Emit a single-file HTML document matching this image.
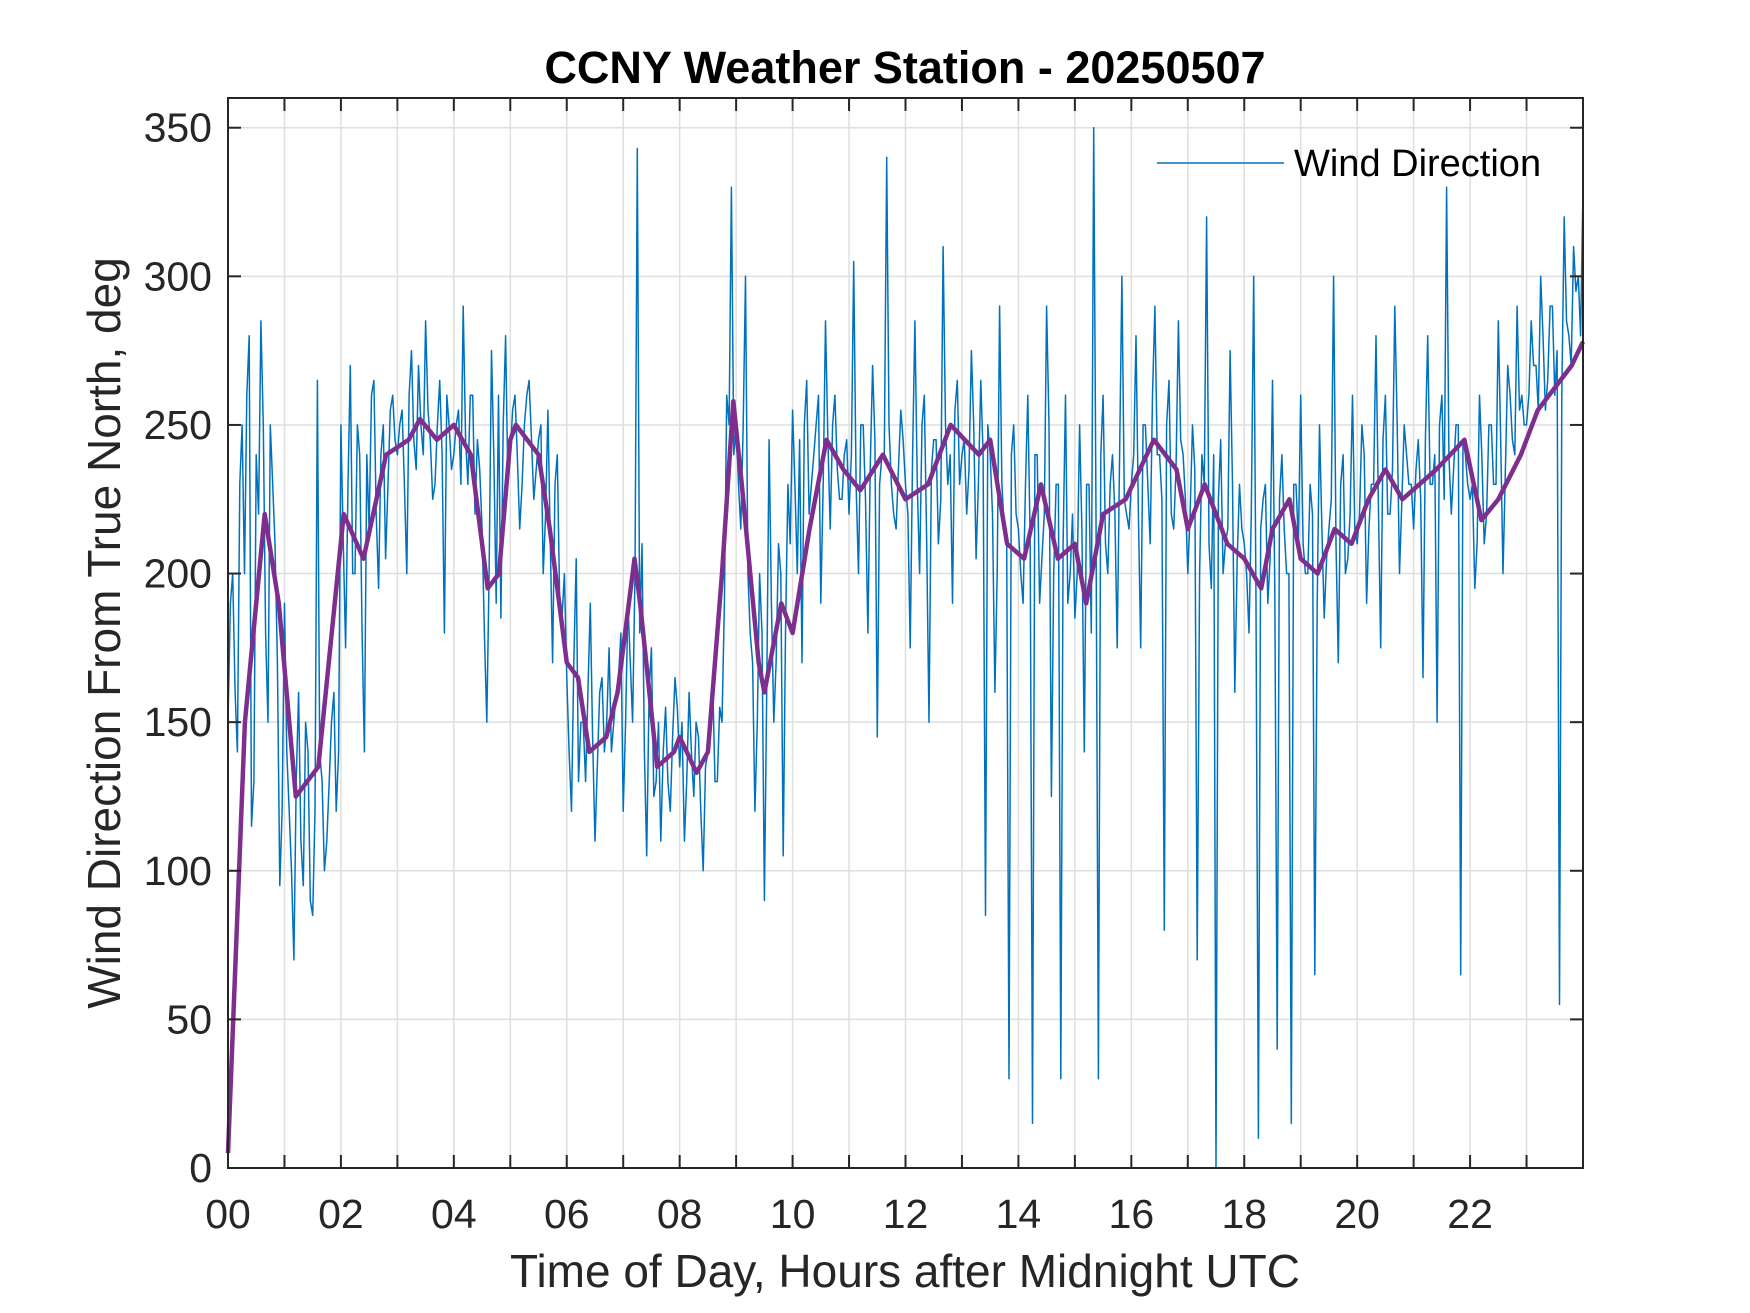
<!DOCTYPE html>
<html><head><meta charset="utf-8"><style>
body{margin:0;background:#fff;}
svg{display:block;font-family:"Liberation Sans",Arial,sans-serif;}
</style></head><body>
<svg id="chart" width="1750" height="1313" viewBox="0 0 1750 1313" xmlns="http://www.w3.org/2000/svg">
<rect x="0" y="0" width="1750" height="1313" fill="#fff"/>
<g id="grid"></g>
<g id="series"></g>
<rect x="228" y="98" width="1355" height="1070" fill="none" stroke="#262626" stroke-width="2"/>
<g id="ticks"></g>
<text x="905" y="83" text-anchor="middle" font-size="45" font-weight="bold" fill="#000">CCNY Weather Station - 20250507</text>
<text x="905" y="1287" text-anchor="middle" font-size="46" fill="#262626">Time of Day, Hours after Midnight UTC</text>
<text transform="translate(120,633) rotate(-90)" text-anchor="middle" font-size="46" fill="#262626">Wind Direction From True North, deg</text>
<g>
<line x1="1157" y1="163" x2="1284" y2="163" stroke="#0072BD" stroke-width="1.5"/>
<text x="1294" y="176" font-size="38" fill="#000">Wind Direction</text>
</g>
</svg>
<script>
const xTicks=[0,1,2,3,4,5,6,7,8,9,10,11,12,13,14,15,16,17,18,19,20,21,22,23];
const xTickLabels=["00","","02","","04","","06","","08","","10","","12","","14","","16","","18","","20","","22",""];
const yTicks=[0,50,100,150,200,250,300,350];
const windDir=[
150,200,140,250,260,115,240,285,180,250,210,95,
190,120,70,160,95,140,85,265,130,110,150,120,
250,175,270,200,240,140,215,265,195,250,230,260,
240,255,200,275,235,250,285,245,230,265,180,250,
240,255,290,230,260,245,215,150,275,190,185,280,
240,260,215,250,265,225,245,200,255,170,240,185,
165,120,205,150,130,190,110,160,140,175,150,165,
120,190,150,343,210,105,175,130,110,155,120,165,
135,110,160,125,145,100,140,165,130,150,260,330,
250,215,300,180,120,200,90,245,150,210,105,230,
255,200,170,265,230,250,190,285,215,260,225,240,
220,305,200,250,180,270,145,240,340,230,215,255,
230,175,285,200,260,150,245,210,310,230,190,265,
240,220,275,205,265,85,240,160,290,215,30,250,
215,190,260,15,240,205,290,125,230,30,260,200,
185,250,140,230,350,30,260,200,240,175,300,220,
230,280,175,250,210,290,240,80,265,215,285,240,
200,250,70,240,320,195,0,245,210,275,160,230,
210,180,300,10,225,190,265,40,240,200,15,230,
260,200,230,65,250,185,215,300,170,240,205,260,
210,250,190,230,280,175,260,220,290,200,250,230,
215,245,165,280,230,150,260,330,220,250,65,240,
225,195,260,210,250,230,285,200,270,245,290,260,
250,285,270,300,255,290,260,55,320,280,310,300,330];
const windDirMid=[
190,160,230,200,280,130,220,250,150,230,170,120,
140,100,130,110,150,90,120,140,100,130,160,140,
210,230,200,250,180,240,260,220,240,205,255,245,
250,230,260,245,270,240,255,225,250,240,260,235,
250,230,245,260,220,235,180,200,240,260,250,230,
255,240,230,260,245,235,250,220,210,230,190,200,
140,170,130,150,160,145,135,165,150,140,160,180,
150,170,200,180,140,160,125,150,140,130,145,155,
150,130,140,150,120,135,145,130,155,190,250,240,
230,250,200,170,150,180,160,190,170,200,180,210,
230,245,250,220,240,260,230,245,250,235,225,245,
240,230,250,225,235,245,230,240,250,220,235,245,
220,240,230,250,210,235,245,225,250,240,255,230,
245,235,250,230,240,250,220,200,230,210,240,220,
200,230,210,240,190,220,250,200,230,210,190,220,
200,215,230,180,220,240,210,230,220,240,225,215,
240,220,250,230,260,240,225,250,220,235,245,225,
220,235,200,230,210,240,225,200,215,230,205,215,
200,220,190,215,230,205,195,225,215,200,230,210,
210,200,220,190,215,205,225,210,230,200,220,215,
220,240,215,230,225,245,220,235,250,225,240,230,
235,225,245,230,240,250,225,240,235,250,245,230,
230,210,240,220,250,230,245,235,260,240,255,250,
260,270,255,280,265,290,275,260,285,270,295,280];
const avgHours=[0,0.3,0.65,0.9,1.2,1.6,2.05,2.4,2.8,3.2,3.4,3.7,4.0,4.3,4.6,4.8,5.0,5.1,5.5,5.7,6.0,6.2,6.4,6.7,6.9,7.2,7.3,7.6,7.9,8.0,8.3,8.5,8.75,8.95,9.1,9.4,9.5,9.8,10.0,10.3,10.6,10.9,11.2,11.6,12.0,12.4,12.8,13.3,13.5,13.8,14.1,14.4,14.7,15.0,15.2,15.5,15.9,16.4,16.8,17.0,17.3,17.7,18.0,18.3,18.5,18.8,19.0,19.3,19.6,19.9,20.2,20.5,20.8,21.1,21.4,21.9,22.2,22.5,22.9,23.2,23.6,23.8,24.0];
const avgDir=[5,150,220,190,125,135,220,205,240,245,252,245,250,240,195,200,245,250,240,215,170,165,140,145,160,205,190,135,140,145,133,140,200,258,230,170,160,190,180,215,245,235,228,240,225,230,250,240,245,210,205,230,205,210,190,220,225,245,235,215,230,210,205,195,215,225,205,200,215,210,225,235,225,230,235,245,218,225,240,255,265,270,278];

const L=228,R=1583,T=98,B=1168;
const xS=h=>L+(R-L)*h/24;
const yS=v=>B-(B-T)*v/360;
const NS="http://www.w3.org/2000/svg";
const grid=document.getElementById('grid'),ticks=document.getElementById('ticks'),series=document.getElementById('series');
function mk(tag,attrs,parent){const e=document.createElementNS(NS,tag);for(const k in attrs)e.setAttribute(k,attrs[k]);parent.appendChild(e);return e;}
xTicks.forEach((h,i)=>{
  const x=xS(h);
  const g=mk('line',{x1:x,y1:T,x2:x,y2:B,stroke:'#dfdfdf','stroke-width':1.5},grid);
  
  
  const t1=mk('line',{x1:x,y1:B,x2:x,y2:B-13,stroke:'#262626','stroke-width':2},ticks);
  
  
  const t2=mk('line',{x1:x,y1:T,x2:x,y2:T+13,stroke:'#262626','stroke-width':2},ticks);
  
  
  if(xTickLabels[i]){
    const t=mk('text',{x:x,y:1228,'text-anchor':'middle','font-size':41,fill:'#262626'},ticks);
    t.textContent=xTickLabels[i];
    
    
  }
});
yTicks.forEach(v=>{
  const y=yS(v);
  const g=mk('line',{x1:L,y1:y,x2:R,y2:y,stroke:'#dfdfdf','stroke-width':1.5},grid);
  
  
  const t1=mk('line',{x1:L,y1:y,x2:L+13,y2:y,stroke:'#262626','stroke-width':2},ticks);
  
  
  const t2=mk('line',{x1:R,y1:y,x2:R-13,y2:y,stroke:'#262626','stroke-width':2},ticks);
  
  
  const t=mk('text',{x:212,y:y+14,'text-anchor':'end','font-size':41,fill:'#262626'},ticks);
  t.textContent=String(v);
  
  
});
const n=windDir.length;
const step=24/(n-1);
const pts=[];
windDir.forEach((v,i)=>{
  pts.push(xS(i*step).toFixed(1)+','+yS(v).toFixed(1));
  if(i<windDirMid.length) pts.push(xS((i+0.5)*step).toFixed(1)+','+yS(windDirMid[i]).toFixed(1));
});
const wl=mk('polyline',{points:pts.join(' '),fill:'none',stroke:'#0072BD','stroke-width':1.5,'stroke-linejoin':'round'},series);


const p2=avgDir.map((v,i)=>xS(avgHours[i]).toFixed(1)+','+yS(v).toFixed(1)).join(' ');
const al=mk('polyline',{points:p2,fill:'none',stroke:'#7E2F8E','stroke-width':4.5,'stroke-linejoin':'round'},series);


</script>
</body></html>
